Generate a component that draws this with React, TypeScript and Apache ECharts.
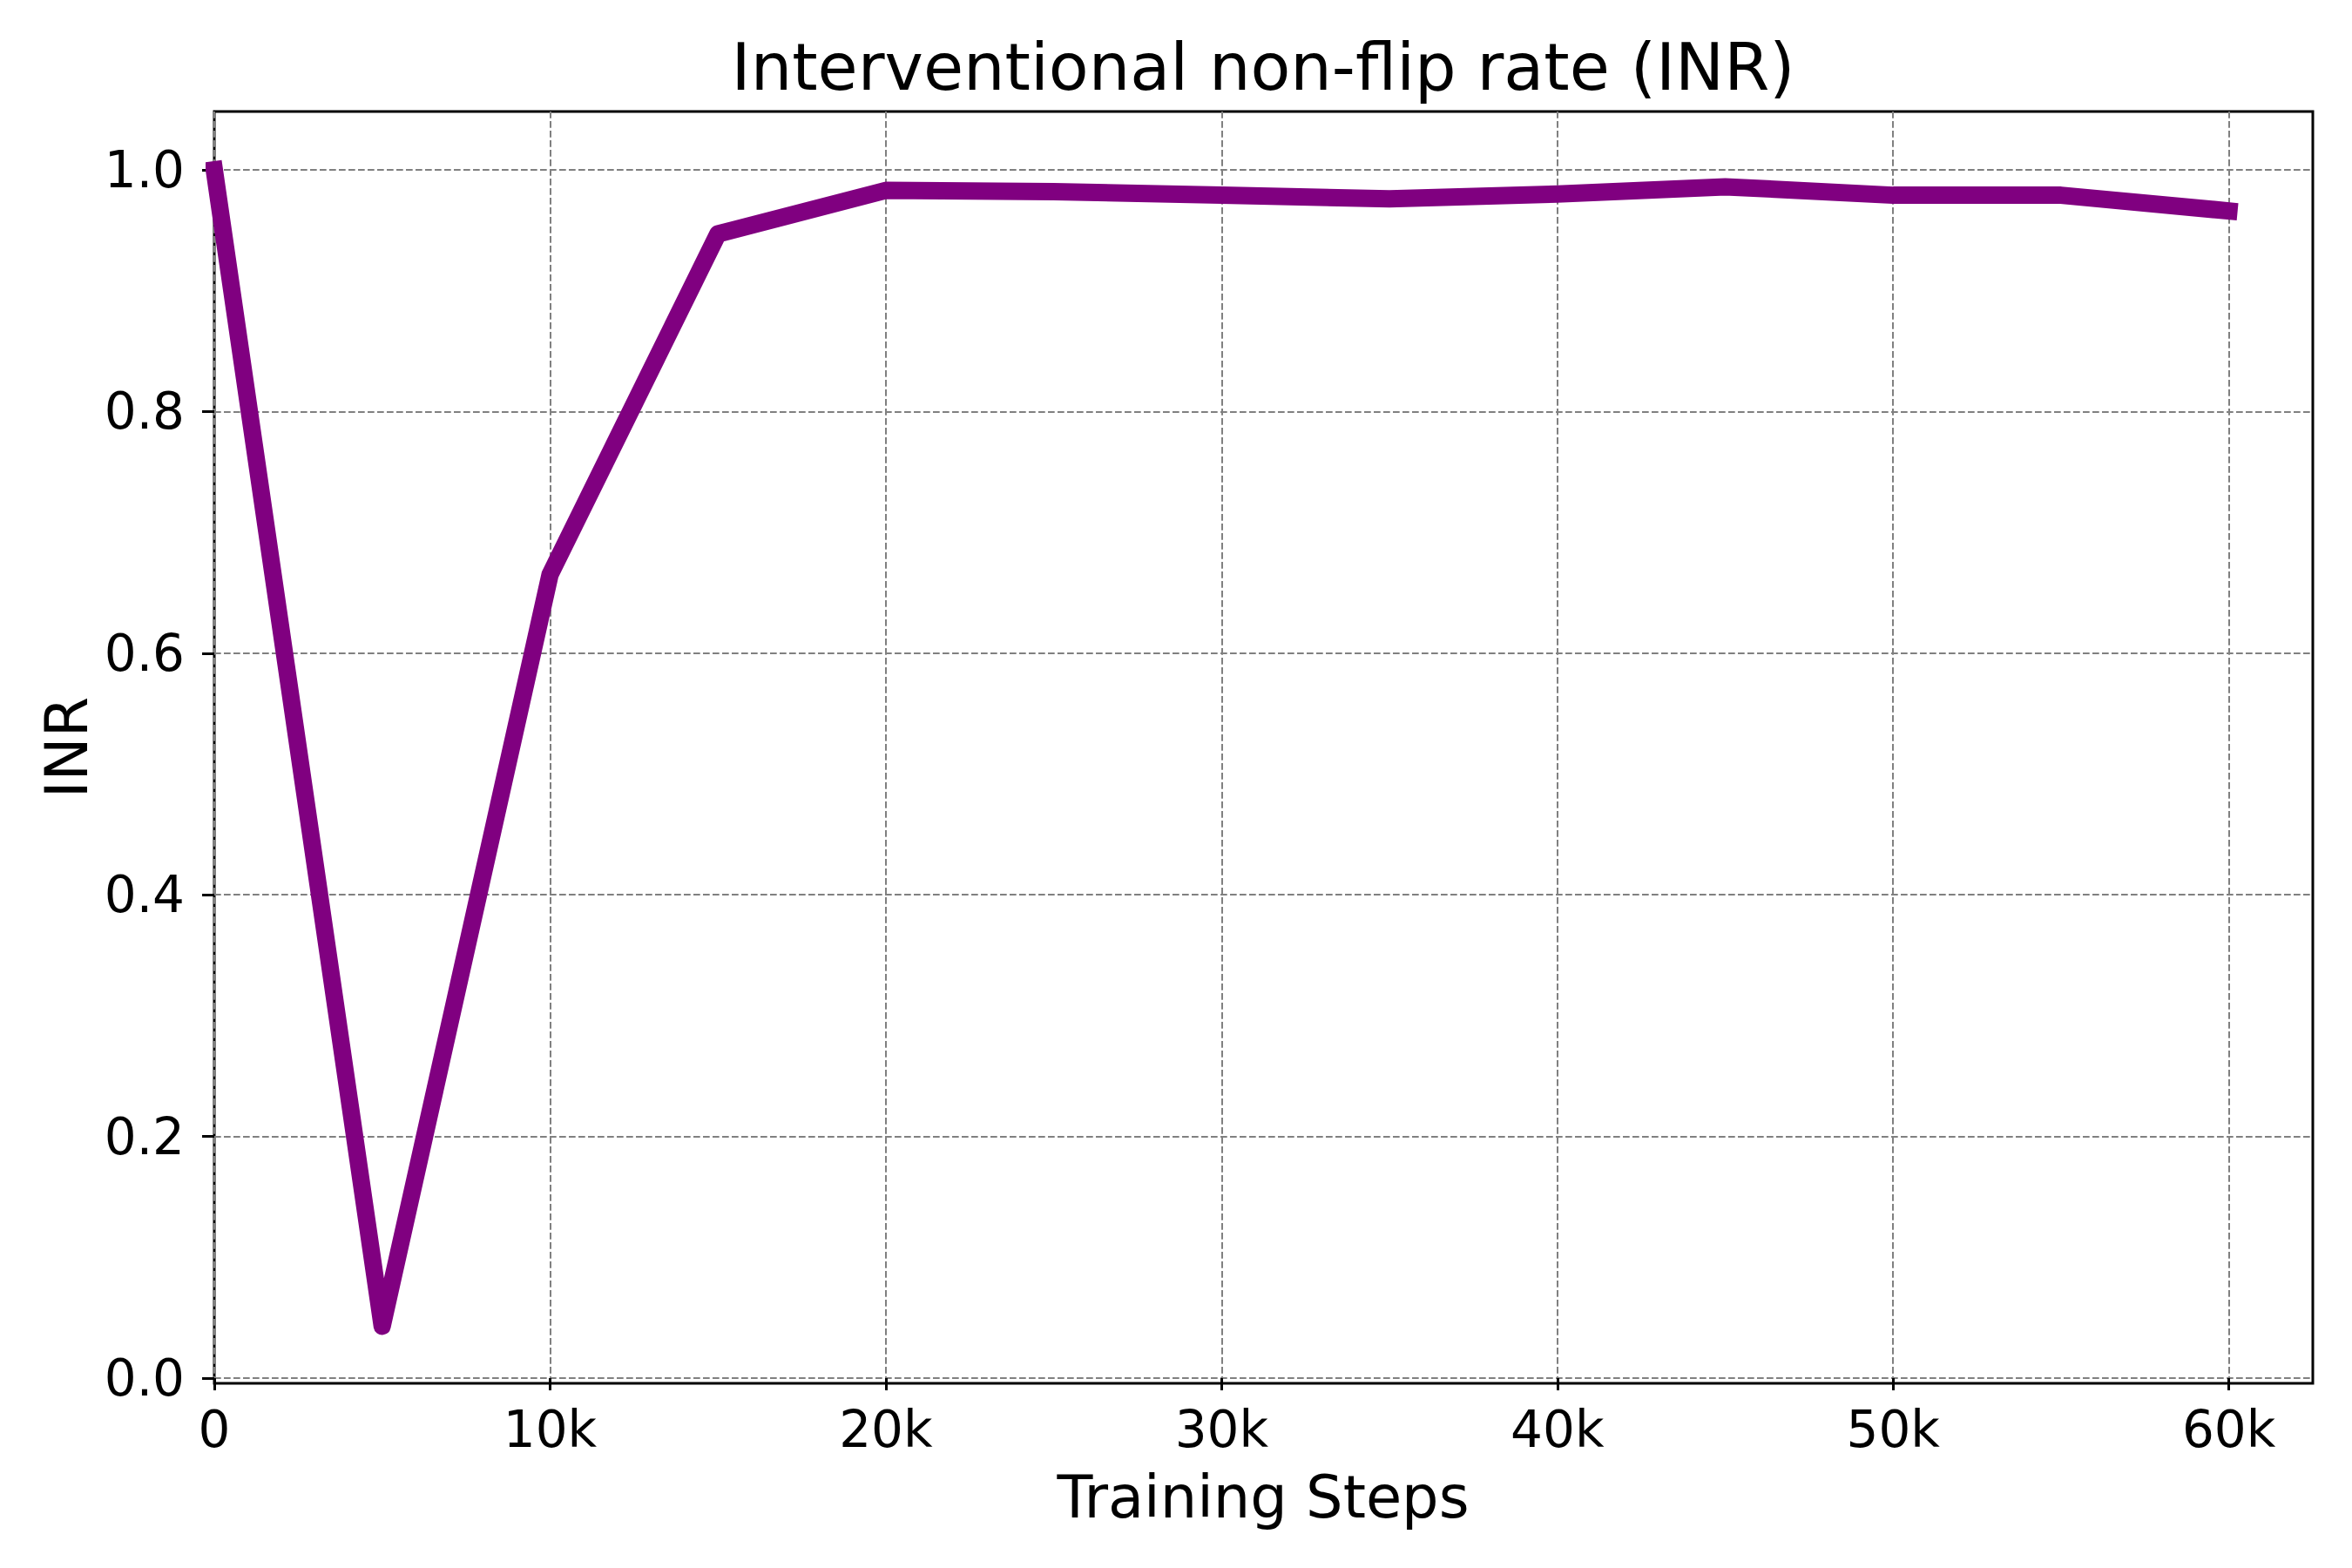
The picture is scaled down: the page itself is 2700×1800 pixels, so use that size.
import React, { useEffect, useRef } from 'react';
import * as echarts from 'echarts';

const steps = [0, 5000, 10000, 15000, 20000, 25000, 30000, 35000, 40000, 45000, 50000, 55000, 60000];
const inrValues = [1.0, 0.043, 0.665, 0.947, 0.983, 0.982, 0.979, 0.976, 0.98, 0.986, 0.979, 0.979, 0.966];
const xTickValues = [0, 10000, 20000, 30000, 40000, 50000, 60000];
const yTickValues = [0, 0.2, 0.4, 0.6, 0.8, 1.0];

const titleText = 'Interventional non-flip rate (INR)';
const xLabelText = 'Training Steps';
const yLabelText = 'INR';

const FONT = "'DejaVu Sans', sans-serif";

export default function App() {
  const ref = useRef<HTMLDivElement>(null);
  useEffect(() => {
    if (!ref.current) return;
    const chart = echarts.init(ref.current, undefined, { renderer: 'svg' });
    const gridStyle = { color: '#808080', width: 2, type: [7.7, 3.3] as any };
    chart.setOption({
      animation: false,
      backgroundColor: '#ffffff',
      textStyle: { fontFamily: FONT },
      grid: {
        left: 246,
        top: 128,
        width: 2409,
        height: 1460,
        show: true,
        borderColor: '#000',
        borderWidth: 3,
        backgroundColor: 'transparent',
        containLabel: false,
      },
      xAxis: {
        type: 'value',
        min: 0,
        max: 62500,
        interval: 10000,
        axisLine: { show: false },
        axisTick: {
          show: true,
          inside: false,
          length: 14,
          lineStyle: { color: '#000', width: 3 },
          customValues: xTickValues,
        },
        axisLabel: {
          show: true,
          margin: 24,
          fontSize: 58,
          fontFamily: FONT,
          color: '#000',
          customValues: xTickValues,
          formatter: (v: number) => (v === 0 ? '0' : `${Math.round(v / 1000)}k`),
        },
        splitLine: { show: true, lineStyle: gridStyle },
      },
      yAxis: {
        type: 'value',
        min: -0.0043,
        max: 1.0483,
        axisLine: { show: false },
        axisTick: {
          show: true,
          inside: false,
          length: 14,
          lineStyle: { color: '#000', width: 3 },
          customValues: yTickValues,
        },
        axisLabel: {
          show: true,
          margin: 34,
          fontSize: 58,
          fontFamily: FONT,
          color: '#000',
          customValues: yTickValues,
          formatter: (v: number) => v.toFixed(1),
        },
        splitLine: { show: true, lineStyle: gridStyle },
      },
      graphic: [
        {
          type: 'text',
          x: 1450,
          y: 77,
          style: {
            text: titleText,
            font: `75px ${FONT}`,
            fill: '#000',
            textAlign: 'center',
            textVerticalAlign: 'middle',
          },
        },
        {
          type: 'text',
          x: 1450,
          y: 1719,
          style: {
            text: xLabelText,
            font: `67px ${FONT}`,
            fill: '#000',
            textAlign: 'center',
            textVerticalAlign: 'middle',
          },
        },
        {
          type: 'text',
          x: 77,
          y: 858,
          rotation: Math.PI / 2,
          style: {
            text: yLabelText,
            font: `67px ${FONT}`,
            fill: '#000',
            textAlign: 'center',
            textVerticalAlign: 'middle',
          },
        },
      ],
      series: [
        {
          type: 'line',
          data: steps.map((s, i) => [s, inrValues[i]]),
          showSymbol: false,
          clip: true,
          lineStyle: { color: '#800080', width: 20, cap: 'square', join: 'round' },
          z: 5,
        },
      ],
    });
    return () => chart.dispose();
  }, []);
  return (
    <div
      ref={ref}
      style={{ position: 'absolute', left: 0, top: 0, width: 2700, height: 1800, background: '#fff' }}
    />
  );
}
